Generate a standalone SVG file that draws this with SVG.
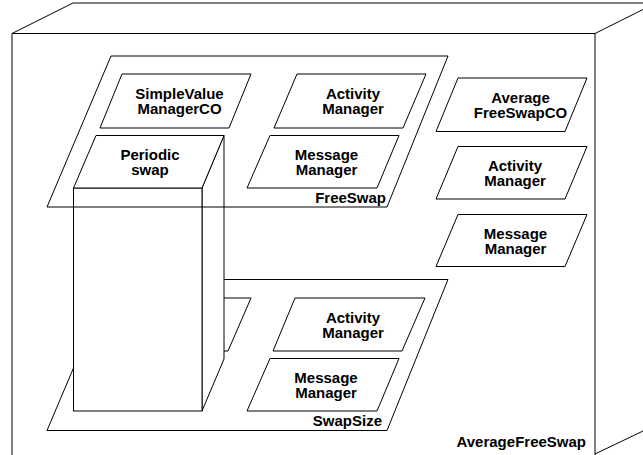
<svg xmlns="http://www.w3.org/2000/svg" width="643" height="455" viewBox="0 0 643 455">
<style>
.s{fill:none;stroke:#000;stroke-width:1}
.w{fill:#fff;stroke:#000;stroke-width:1}
.t{font-family:"Liberation Sans",Arial,Helvetica,sans-serif;font-weight:bold;font-size:15px;text-anchor:middle;fill:#000}
.e{text-anchor:end}
</style>
<rect x="0" y="0" width="643" height="455" fill="#fff"/>
<g id="AverageFreeSwap">
<path class="s" d="M12,455 L12,33.5 L595,33.5 L595,455 M12,33.5 L73,3 L643,3 M595,33.5 L643,9.5 M595,454 L643,431"/>
<text class="t e" x="586" y="447">AverageFreeSwap</text>
</g>
<g id="SwapSize">
<path class="s" d="M111,279.5 L448,279.5 L387,430.5 L47,430.5 Z"/>
<text class="t e" x="382" y="426">SwapSize</text>
</g>
<g id="SwapSizeHidden">
<path class="s" d="M122,298 L251,298 L228,351 L100,351 Z"/>
</g>
<g id="SwapSizeActivityManager">
<path class="s" d="M295,298 L425,298 L402,351 L273,351 Z"/>
<text class="t" x="353" y="322.5">Activity</text>
<text class="t" x="353" y="337.5">Manager</text>
</g>
<g id="SwapSizeMessageManager">
<path class="s" d="M270,358.5 L399,358.5 L377,411 L247,411 Z"/>
<text class="t" x="326" y="382.5">Message</text>
<text class="t" x="326" y="397.5">Manager</text>
</g>
<g id="PeriodicSwap">
<path class="w" d="M224,135.5 L224,359 L202,411 L202,188 Z"/>
<rect class="w" x="73.5" y="188" width="128.5" height="223"/>
<path class="w" d="M96,135.5 L224,135.5 L202,188 L73.5,188 Z"/>
<text class="t" x="150" y="160">Periodic</text>
<text class="t" x="150" y="175">swap</text>
</g>
<g id="FreeSwap">
<path class="s" d="M111,56 L448,56 L387,207 L47,207 Z"/>
<text class="t e" x="386" y="203">FreeSwap</text>
</g>
<g id="SimpleValueManagerCO">
<path class="s" d="M122,74 L251,74 L229,128 L100,128 Z"/>
<text class="t" x="179.5" y="98.5">SimpleValue</text>
<text class="t" x="179.5" y="113.5">ManagerCO</text>
</g>
<g id="FreeSwapActivityManager">
<path class="s" d="M297,74 L426,74 L403,128 L274,128 Z"/>
<text class="t" x="353" y="98.5">Activity</text>
<text class="t" x="353" y="113.5">Manager</text>
</g>
<g id="FreeSwapMessageManager">
<path class="s" d="M270,135.5 L399,135.5 L377,188 L247,188 Z"/>
<text class="t" x="326.5" y="160">Message</text>
<text class="t" x="326.5" y="175">Manager</text>
</g>
<g id="AverageFreeSwapCO">
<path class="s" d="M458,78 L587,78 L565,131.5 L436,131.5 Z"/>
<text class="t" x="520.5" y="103">Average</text>
<text class="t" x="520.5" y="118">FreeSwapCO</text>
</g>
<g id="ActivityManager">
<path class="s" d="M458,146.5 L587,146.5 L565,199 L436,199 Z"/>
<text class="t" x="515" y="171">Activity</text>
<text class="t" x="515" y="186">Manager</text>
</g>
<g id="MessageManager">
<path class="s" d="M458,214.5 L587,214.5 L565,266.5 L436,266.5 Z"/>
<text class="t" x="515.5" y="238.5">Message</text>
<text class="t" x="515.5" y="253.5">Manager</text>
</g>
<g id="connectors"></g>
</svg>
